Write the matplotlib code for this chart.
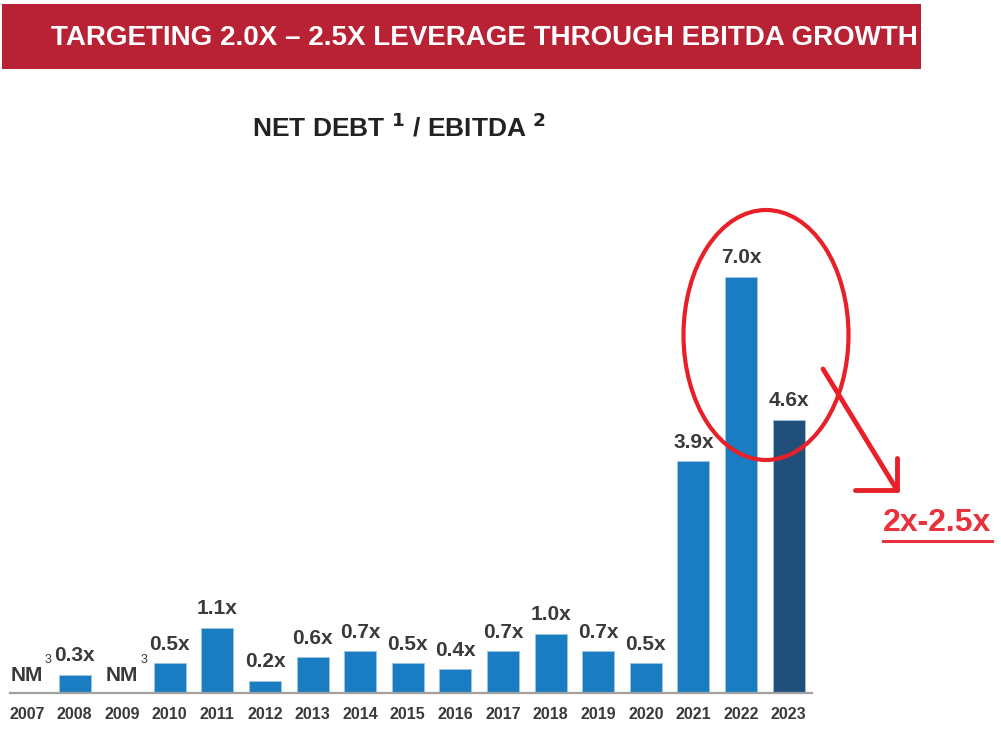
import matplotlib
matplotlib.use("Agg")
import matplotlib.pyplot as plt
from matplotlib.patches import Ellipse, Rectangle
from matplotlib.lines import Line2D

plt.rcParams['font.family'] = ['Liberation Sans', 'DejaVu Sans']

years = ['2007', '2008', '2009', '2010', '2011', '2012', '2013', '2014', '2015',
         '2016', '2017', '2018', '2019', '2020', '2021', '2022', '2023']
leverage = [None, 0.3, None, 0.5, 1.1, 0.2, 0.6, 0.7, 0.5, 0.4, 0.7, 1.0, 0.7,
            0.5, 3.9, 7.0, 4.6]
labels = ['NM', '0.3x', 'NM', '0.5x', '1.1x', '0.2x', '0.6x', '0.7x', '0.5x',
          '0.4x', '0.7x', '1.0x', '0.7x', '0.5x', '3.9x', '7.0x', '4.6x']

W, H = 1001, 729
blue = '#1A7DC1'
navy = '#204F7A'
txt = '#3A3A3A'
red = '#E8202A'

fig = plt.figure(figsize=(W / 100, H / 100), dpi=100)


def px(x, y):
    # pixel position (from top-left) -> figure fraction
    return x / W, 1 - y / H


# banner
fig.add_artist(Rectangle(px(2, 69), 919 / W, 65 / H, transform=fig.transFigure,
                         color='#B82234', lw=0))
fig.text(*px(484, 38), 'TARGETING 2.0X \u2013 2.5X LEVERAGE THROUGH EBITDA GROWTH',
         color='white', fontsize=20, fontweight='bold', ha='center', va='center')

# subtitle
fig.text(*px(399, 127), r'NET DEBT $^{\mathbf{1}}$ / EBITDA $^{\mathbf{2}}$',
         color='#222222', fontsize=19, fontweight='bold', ha='center', va='center')

# main axes spans the whole figure, scaled so the bars land where they should
ax = fig.add_axes([0, 0, 1, 1])
step = 47.6
unit = 59.4
x0 = 27
base = 693
ax.set_xlim(-x0 / step, (W - x0) / step)
ax.set_ylim(-(H - base) / unit, base / unit)
ax.patch.set_alpha(0)

xs = list(range(len(years)))
heights = [v if v is not None else 0 for v in leverage]
colors = [blue] * (len(years) - 1) + [navy]
ax.bar(xs, heights, width=0.67, color=colors, edgecolor='#9CC3E4', linewidth=0.6, zorder=2)

for i, (v, lab) in enumerate(zip(leverage, labels)):
    if v is None:
        ax.text(i, 0.3, lab, ha='center', va='center', fontsize=15,
                fontweight='bold', color=txt)
        ax.text(i + 0.45, 0.55, '3', ha='center', va='center', fontsize=9, color=txt)
    else:
        ax.annotate(lab, (i, v), xytext=(0, 7), textcoords='offset points',
                    ha='center', va='bottom', fontsize=15, fontweight='bold', color=txt)

for s in ['top', 'right', 'left']:
    ax.spines[s].set_visible(False)
ax.spines['bottom'].set_position(('data', 0))
ax.spines['bottom'].set_bounds(-0.36, 16.5)
ax.spines['bottom'].set_color('#A0A0A0')
ax.spines['bottom'].set_linewidth(1.6)
ax.set_yticks([])
ax.set_xticks(xs)
ax.set_xticklabels(years, fontsize=11.5, fontweight='bold', color=txt)
ax.tick_params(axis='x', length=0, pad=10)

# hand-drawn highlight
fig.add_artist(Ellipse(px(766, 335), 165 / W, 250 / H, transform=fig.transFigure,
                       fill=False, edgecolor=red, lw=3))
for (xa, ya), (xb, yb) in [((823, 369), (897, 490)),
                           ((855, 490), (897, 490)),
                           ((897, 458), (897, 490))]:
    fig.add_artist(Line2D([xa / W, xb / W], [1 - ya / H, 1 - yb / H],
                          transform=fig.transFigure, color=red, lw=3.5,
                          solid_capstyle='round'))
fig.text(*px(937, 523), '2x-2.5x', color='#E8313B', fontsize=23, fontweight='bold',
         ha='center', va='center')
fig.add_artist(Line2D([883 / W, 992 / W], [1 - 541 / H, 1 - 541 / H],
                      transform=fig.transFigure, color='#E8313B', lw=2.2))

fig.savefig('out.png', dpi=100)
